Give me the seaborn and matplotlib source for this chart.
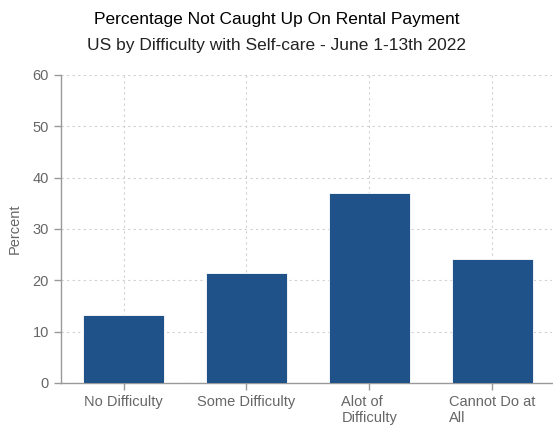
import pandas as pd
import seaborn as sns
import matplotlib.pyplot as plt

# Datos
categorias = ['No Difficulty', 'Some Difficulty', 'Alot of\nDifficulty', 'Cannot Do at\nAll']
porcentaje = [13.3, 21.4, 36.9, 24.1]

df = pd.DataFrame({'categoria': categorias, 'porcentaje': porcentaje})

sns.set_style('white')
plt.rcParams['font.family'] = ['Liberation Sans', 'DejaVu Sans']

gris = '#666666'
fig = plt.figure(figsize=(5.53, 4.25), dpi=100)
ax = fig.add_axes([0.110, 0.099, 0.889, 0.725])

sns.barplot(data=df, x='categoria', y='porcentaje', color='#1f5289',
            saturation=1, width=0.66, edgecolor='white', linewidth=0.6, ax=ax, zorder=3)

ax.set_ylim(0, 60)
ax.set_xlim(-0.51, 3.49)
ax.set_yticks(range(0, 61, 10))
ax.grid(True, axis='both', linestyle=(0, (2, 3)), color='#d0d0d0', linewidth=0.8, zorder=0)
ax.set_axisbelow(True)

for s in ['top', 'right']:
    ax.spines[s].set_visible(False)
for s in ['left', 'bottom']:
    ax.spines[s].set_color('#999999')
    ax.spines[s].set_linewidth(1)

ax.tick_params(axis='both', colors=gris, labelsize=10.5, length=5, width=1, direction='out',
               bottom=True, left=True)
ax.tick_params(axis='both', color='#999999')
for lbl in ax.get_xticklabels():
    lbl.set_multialignment('left')

ax.set_xlabel('')
ax.set_ylabel('Percent', color=gris, fontsize=10.5, labelpad=8)

fig.text(0.5, 0.955, 'Percentage Not Caught Up On Rental Payment', ha='center', va='center',
         fontsize=12.5, color='black')
fig.text(0.5, 0.893, 'US by Difficulty with Self-care - June 1-13th 2022', ha='center', va='center',
         fontsize=12.5, color='#222222')

fig.savefig('out.png', dpi=100)
